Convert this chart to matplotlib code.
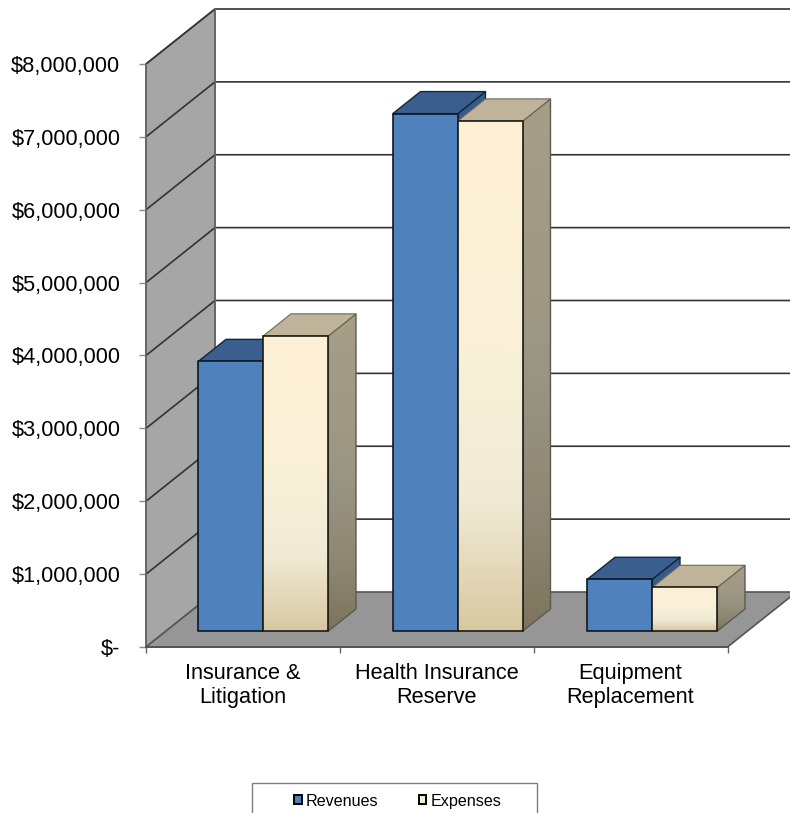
import numpy as np
import matplotlib
matplotlib.use("Agg")
import matplotlib.pyplot as plt
from matplotlib.patches import Polygon, Patch, Rectangle
from matplotlib.colors import LinearSegmentedColormap

plt.rcParams['font.family'] = ['Liberation Sans', 'DejaVu Sans']

# ---- data ----
categories = ["Insurance &\nLitigation", "Health Insurance\nReserve", "Equipment\nReplacement"]
revenues = [3700000, 7100000, 710000]
expenses = [4050000, 7000000, 600000]
y_values = [0, 1000000, 2000000, 3000000, 4000000, 5000000, 6000000, 7000000, 8000000]
y_labels = ["$-", "$1,000,000", "$2,000,000", "$3,000,000", "$4,000,000",
            "$5,000,000", "$6,000,000", "$7,000,000", "$8,000,000"]
series_names = ["Revenues", "Expenses"]

W, H = 790, 813
fig = plt.figure(figsize=(W / 100, H / 100), dpi=100, facecolor='white')
LEFT, RIGHT, BOTTOM, TOP = 146, 727.5, 647, 64
ax = fig.add_axes([LEFT / W, 1 - BOTTOM / H, (RIGHT - LEFT) / W, (BOTTOM - TOP) / H])
ax.set_facecolor('none')

n = len(categories)
px_x = (n) / (RIGHT - LEFT)                # category units per pixel
px_y = max(y_values) / (BOTTOM - TOP)      # dollars per pixel
DEPTH_X = 69 * px_x                        # full oblique depth, axis units
DEPTH_Y = 55 * px_y
BAR_W = 65 * px_x
GAP = 32.3 * px_x
PERIOD = 194.5 * px_x
BAR_D0, BAR_D1 = 16 / 55, 38 / 55          # bar depth position in the floor


def proj(x, y, d=0.0):
    """Oblique projection of (x, value, depth) to axes data coordinates."""
    return (x + d * DEPTH_X, y + d * DEPTH_Y)


z = [1]


def face(pts, fc, ec='#1a1a1a', lw=1.0):
    z[0] += 1
    p = Polygon(pts, closed=True, facecolor=fc, edgecolor=ec, linewidth=lw,
                clip_on=False, zorder=z[0], joinstyle='round')
    ax.add_patch(p)
    return p


def grad_face(pts, stops, ec='#1a1a1a', lw=1.0):
    z[0] += 1
    pts = np.array(pts)
    cmap = LinearSegmentedColormap.from_list('g', stops)
    img = np.linspace(0, 1, 256).reshape(-1, 1)
    clip = Polygon(pts, closed=True, transform=ax.transData, facecolor='none', edgecolor='none')
    ax.add_patch(clip)
    clip.set_clip_on(False)
    im = ax.imshow(img, cmap=cmap, aspect='auto', interpolation='bilinear', origin='upper',
                   extent=(pts[:, 0].min(), pts[:, 0].max(), pts[:, 1].min(), pts[:, 1].max()),
                   zorder=z[0])
    im.set_clip_path(clip)
    im.set_clip_box(fig.bbox)
    z[0] += 1
    ax.add_patch(Polygon(pts, closed=True, facecolor='none', edgecolor=ec, linewidth=lw,
                         clip_on=False, zorder=z[0]))


ymax = max(y_values)
# walls and floor
face([proj(0, 0), proj(0, ymax), proj(0, ymax, 1), proj(0, 0, 1)], '#a6a6a6', ec='#666666', lw=1.2)
face([proj(0, 0), proj(n, 0), proj(n, 0, 1), proj(0, 0, 1)], '#969696', ec='#555555', lw=1.2)

# gridlines on wall and back plane
for v in y_values[1:]:
    z[0] += 1
    ax.plot([proj(0, v)[0], proj(0, v, 1)[0], proj(n, v, 1)[0]],
            [proj(0, v)[1], proj(0, v, 1)[1], proj(n, v, 1)[1]],
            color='#333333', lw=1.2, clip_on=False, zorder=z[0], solid_capstyle='butt')
z[0] += 1
ax.plot([proj(0, ymax, 1)[0]] * 2, [proj(0, 0, 1)[1], proj(0, ymax, 1)[1]],
        color='#666666', lw=1.3, clip_on=False, zorder=z[0])

blue_front = '#4f81bd'
blue_top = '#3a5f8f'
blue_side = '#335b8c'
exp_front = [(0, '#fff0d5'), (0.45, '#f9f0d8'), (0.75, '#f0ead5'), (1, '#d8c8a0')]
exp_side = [(0, '#a89e88'), (0.5, '#9b9684'), (0.8, '#8c8672'), (1, '#7d745c')]
exp_top = '#bfb39a'


def bar(x0, v, series):
    x1 = x0 + BAR_W
    fr = [proj(x0, 0, BAR_D0), proj(x1, 0, BAR_D0), proj(x1, v, BAR_D0), proj(x0, v, BAR_D0)]
    sd = [proj(x1, 0, BAR_D0), proj(x1, 0, BAR_D1), proj(x1, v, BAR_D1), proj(x1, v, BAR_D0)]
    tp = [proj(x0, v, BAR_D0), proj(x1, v, BAR_D0), proj(x1, v, BAR_D1), proj(x0, v, BAR_D1)]
    if series == 0:
        face(sd, blue_side, ec='#13263f')
        face(tp, blue_top, ec='#13263f')
        face(fr, blue_front, ec='#101820', lw=1.2)
    else:
        grad_face(sd, exp_side, ec='#5c5a4e')
        face(tp, exp_top, ec='#6e6955', lw=0.8)
        grad_face(fr, exp_front, ec='#1c1c14', lw=1.2)


for i in range(n):
    x0 = i * PERIOD + GAP
    bar(x0, revenues[i], 0)
    bar(x0 + BAR_W, expenses[i], 1)

# axes
ax.set_xlim(0, n)
ax.set_ylim(0, ymax)
for s in ('top', 'right'):
    ax.spines[s].set_visible(False)
ax.spines['left'].set_color('#666666')
ax.spines['left'].set_linewidth(1.2)
ax.spines['bottom'].set_color('#555555')
ax.spines['bottom'].set_linewidth(1.4)
ax.spines['left'].set_zorder(200)
ax.spines['bottom'].set_zorder(200)

ax.set_yticks(y_values, y_labels)
ax.tick_params(axis='y', length=5, width=1, color='#8c8c8c', pad=13.5, labelsize=15.7, labelcolor='black')
for t in ax.get_yticklabels():
    t.set_verticalalignment('center_baseline')
ax.set_xticks(range(n + 1), [''] * (n + 1))
ax.tick_params(axis='x', which='major', length=4.5, width=1, color='#666666')
ax.set_xticks(np.arange(n) + 0.5, categories, minor=True)
ax.tick_params(axis='x', which='minor', direction='in', length=4, width=0.8, color='#666666',
               pad=11.3, labelsize=15.7)
for t in ax.get_xticklabels(minor=True):
    t.set_linespacing(1.2)
    t.set_horizontalalignment('center')
    t.set_multialignment('center')
ax.set_axisbelow(False)

# legend frame runs off the bottom of the picture, as in the reference
fig.add_artist(Rectangle((252 / W, -0.02), (537 - 252) / W, 1 - 783 / H + 0.02,
                         transform=fig.transFigure, facecolor='white', edgecolor='#7f7f7f', linewidth=1))
handles = [Patch(facecolor=blue_front, edgecolor='black', linewidth=1.4),
           Patch(facecolor='#f5edd6', edgecolor='black', linewidth=1.4)]
fig.legend(handles, series_names, loc='center', bbox_to_anchor=(398 / W, 1 - 801 / H), ncol=2,
           frameon=False, fontsize=11.6, handlelength=0.45, handleheight=0.5, handletextpad=0.28,
           columnspacing=2.5, borderpad=0, borderaxespad=0)

fig.savefig('out.png', dpi=100, facecolor='white')
